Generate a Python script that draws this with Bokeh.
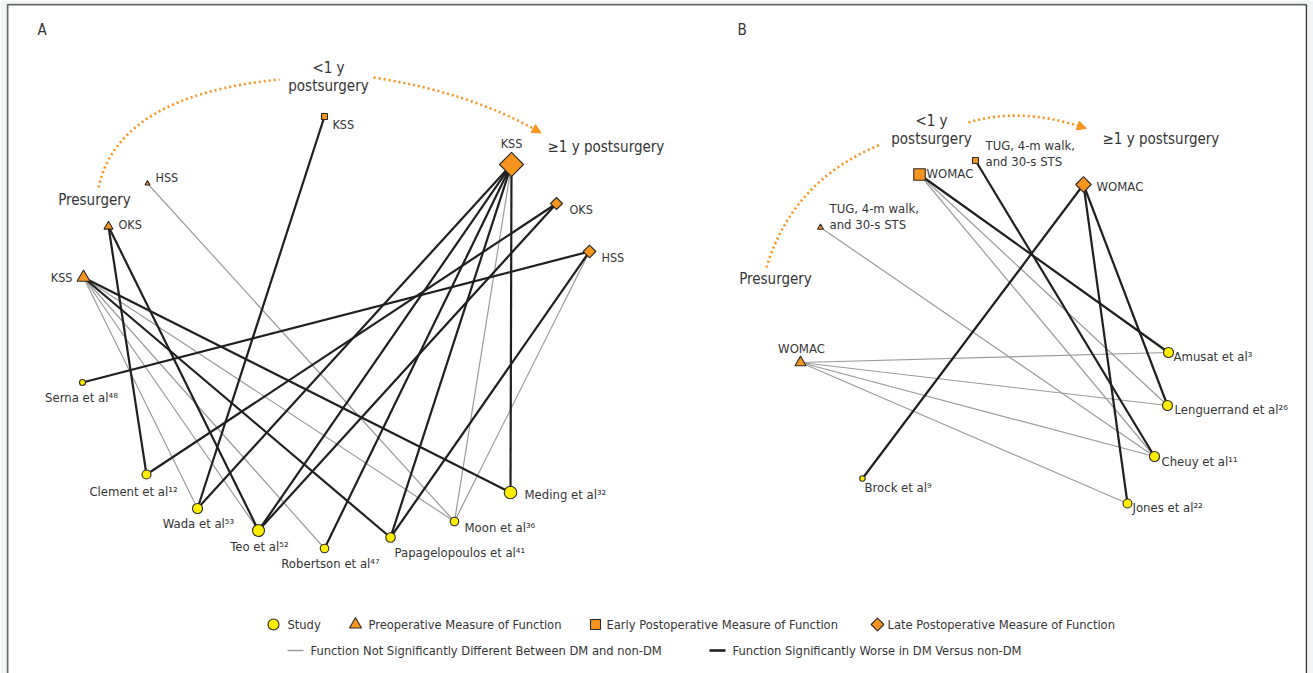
import math
from bokeh.plotting import figure
from bokeh.models import Range1d, Arrow, NormalHead, ColumnDataSource
from bokeh.core.properties import value
from bokeh.embed import file_html
from bokeh.resources import INLINE

FONT = value("'DejaVu Sans Condensed', 'Liberation Sans Narrow', 'Roboto', sans-serif")
ORANGE = "#F7941D"
YELLOW = "#FFEE00"
EDGE_WORSE = "#1f1f1f"
EDGE_SAME = "#9b9b9b"
OUTLINE = "#2a2a2a"
TEXT = "#353535"
SUP = str.maketrans("0123456789", "⁰¹²³⁴⁵⁶⁷⁸⁹")

# ---------------- Panel A: knee and hip scores ----------------
A_MEASURE_ID = ["pre_kss", "pre_oks", "pre_hss", "early_kss", "late_kss", "late_oks", "late_hss"]
A_MEASURE_NAME = ["KSS", "OKS", "HSS", "KSS", "KSS", "OKS", "HSS"]
A_MEASURE_PHASE = ["pre", "pre", "pre", "early", "late", "late", "late"]

A_STUDY_ID = ["serna", "clement", "wada", "teo", "robertson", "papagelopoulos", "moon", "meding"]
A_STUDY_NAME = ["Serna et al", "Clement et al", "Wada et al", "Teo et al", "Robertson et al",
                "Papagelopoulos et al", "Moon et al", "Meding et al"]
A_STUDY_REF = ["48", "12", "53", "52", "47", "41", "36", "32"]

# each edge: measure -> study, 1 = significantly worse in DM
A_EDGE_FROM = ["pre_kss", "pre_kss", "pre_kss", "pre_kss", "pre_kss", "pre_kss",
               "pre_oks", "pre_oks", "pre_hss", "early_kss",
               "late_kss", "late_kss", "late_kss", "late_kss", "late_kss", "late_kss",
               "late_oks", "late_oks", "late_hss", "late_hss", "late_hss"]
A_EDGE_TO = ["wada", "teo", "robertson", "moon", "papagelopoulos", "meding",
             "clement", "teo", "moon", "wada",
             "wada", "teo", "robertson", "papagelopoulos", "meding", "moon",
             "clement", "teo", "serna", "papagelopoulos", "moon"]
A_EDGE_WORSE = [0, 0, 0, 0, 1, 1,
                1, 1, 0, 1,
                1, 1, 1, 1, 1, 0,
                1, 1, 1, 1, 0]

# ---------------- Panel B: WOMAC and performance tests ----------------
B_MEASURE_ID = ["pre_womac", "pre_tug", "early_womac", "early_tug", "late_womac"]
B_MEASURE_NAME = ["WOMAC", "TUG, 4-m walk,\nand 30-s STS", "WOMAC", "TUG, 4-m walk,\nand 30-s STS", "WOMAC"]
B_MEASURE_PHASE = ["pre", "pre", "early", "early", "late"]

B_STUDY_ID = ["amusat", "lenguerrand", "cheuy", "jones", "brock"]
B_STUDY_NAME = ["Amusat et al", "Lenguerrand et al", "Cheuy et al", "Jones et al", "Brock et al"]
B_STUDY_REF = ["3", "26", "11", "22", "9"]

B_EDGE_FROM = ["pre_womac", "pre_womac", "pre_womac", "pre_womac", "pre_tug",
               "early_womac", "early_womac", "early_womac", "early_tug",
               "late_womac", "late_womac", "late_womac"]
B_EDGE_TO = ["amusat", "lenguerrand", "cheuy", "jones", "cheuy",
             "amusat", "lenguerrand", "cheuy", "cheuy",
             "brock", "lenguerrand", "jones"]
B_EDGE_WORSE = [0, 0, 0, 0, 0,
                1, 0, 0, 1,
                1, 1, 1]

# ---------------- layout (pixel-space) ----------------
A_MEASURE_XY = {"pre_kss": (83, 277), "pre_oks": (108, 226), "pre_hss": (147, 183),
                "early_kss": (324, 116), "late_kss": (511, 164), "late_oks": (556, 203),
                "late_hss": (589, 251)}
A_MEASURE_SIZE = {"pre_kss": 13, "pre_oks": 9, "pre_hss": 5, "early_kss": 6,
                  "late_kss": 17, "late_oks": 8.5, "late_hss": 9}
A_MEASURE_LABEL = {"pre_kss": (72, 277, "right"), "pre_oks": (118, 224, "left"),
                   "pre_hss": (155, 177, "left"), "early_kss": (332, 124, "left"),
                   "late_kss": (511, 143, "center"), "late_oks": (569, 209, "left"),
                   "late_hss": (601, 257, "left")}
A_STUDY_XY = {"serna": (82, 382), "clement": (146, 474), "wada": (197, 508), "teo": (258, 530),
              "robertson": (324, 548), "papagelopoulos": (390, 537), "moon": (454, 521),
              "meding": (510, 492)}
A_STUDY_SIZE = {"serna": 6, "clement": 9, "wada": 10, "teo": 12, "robertson": 8.5,
                "papagelopoulos": 9.5, "moon": 8.5, "meding": 12.5}
A_STUDY_LABEL = {"serna": (81, 397, "center"), "clement": (133, 491, "center"),
                 "wada": (198, 523, "center"), "teo": (259, 546, "center"),
                 "robertson": (330, 563, "center"), "papagelopoulos": (394, 552, "left"),
                 "moon": (464, 527, "left"), "meding": (524, 494, "left")}

B_MEASURE_XY = {"pre_womac": (800, 362), "pre_tug": (820, 227), "early_womac": (919, 174),
                "early_tug": (975, 160), "late_womac": (1083, 184)}
B_MEASURE_SIZE = {"pre_womac": 11, "pre_tug": 6, "early_womac": 11.5, "early_tug": 6, "late_womac": 11}
B_MEASURE_LABEL = {"pre_womac": (801, 348, "center"), "pre_tug": (829, 216, "left"),
                   "early_womac": (926, 173, "left"), "early_tug": (985, 153, "left"),
                   "late_womac": (1096, 186, "left")}
B_STUDY_XY = {"amusat": (1168, 352), "lenguerrand": (1167, 405), "cheuy": (1154, 456),
              "jones": (1127, 503), "brock": (862, 478)}
B_STUDY_SIZE = {"amusat": 10, "lenguerrand": 10, "cheuy": 10, "jones": 9, "brock": 5.5}
B_STUDY_LABEL = {"amusat": (1173, 356, "left"), "lenguerrand": (1174, 409, "left"),
                 "cheuy": (1161, 461, "left"), "jones": (1132, 507, "left"),
                 "brock": (864, 487, "left")}

p = figure(width=1313, height=673, x_range=Range1d(6, 1307), y_range=Range1d(673, 3),
           min_border_left=6, min_border_right=6, min_border_top=3, min_border_bottom=0,
           x_axis_location=None, y_axis_location=None,
           output_backend="svg", toolbar_location=None,
           outline_line_color=None, border_fill_color="#f3f4f6")
p.xgrid.visible = False
p.ygrid.visible = False
p.background_fill_color = "white"

# page frame: left, top and right edges
p.line([7, 7, 1306], [673, 4, 4], line_color="#666666", line_width=2)
p.line([1306, 1306], [4, 673], line_color="#3a3a3a", line_width=1.5)


def draw_edges(frm, to, worse, mxy, sxy):
    for flag, color, width in ((0, EDGE_SAME, 1.2), (1, EDGE_WORSE, 2.2)):
        xs, ys = [], []
        for f, t, w in zip(frm, to, worse):
            if w != flag:
                continue
            (x0, y0), (x1, y1) = mxy[f], sxy[t]
            xs.append([x0, x1])
            ys.append([y0, y1])
        p.multi_line(xs, ys, line_color=color, line_width=width)


def draw_measures(ids, names, phases, mxy, msize, mlabel, fsize):
    for phase, marker, angle in (("pre", "triangle", 0), ("early", "square", 0),
                                 ("late", "square", math.pi / 4)):
        sel = [i for i, ph in zip(ids, phases) if ph == phase]
        if not sel:
            continue
        src = ColumnDataSource(dict(x=[mxy[i][0] for i in sel], y=[mxy[i][1] for i in sel],
                                    s=[msize[i] for i in sel]))
        p.scatter("x", "y", size="s", marker=marker, angle=angle, source=src,
                  fill_color=ORANGE, line_color=OUTLINE, line_width=1.1)
    for i, n in zip(ids, names):
        x, y, al = mlabel[i]
        p.text([x], [y], text=[n], text_font=FONT, text_font_size=fsize, text_color=TEXT,
               text_align=al, text_baseline="middle", text_line_height=1.1)


def draw_studies(ids, names, refs, sxy, ssize, slabel):
    src = ColumnDataSource(dict(x=[sxy[i][0] for i in ids], y=[sxy[i][1] for i in ids],
                                s=[ssize[i] for i in ids]))
    p.scatter("x", "y", size="s", marker="circle", source=src,
              fill_color=YELLOW, line_color=OUTLINE, line_width=1.1)
    for i, n, r in zip(ids, names, refs):
        x, y, al = slabel[i]
        p.text([x], [y], text=[n + r.translate(SUP)], text_font=FONT, text_font_size="13px",
               text_color=TEXT, text_align=al, text_baseline="middle")


def stage_text(x, y, s, al="center"):
    p.text([x], [y], text=[s], text_font=FONT, text_font_size="15px", text_color=TEXT,
           text_align=al, text_baseline="middle")


def dotted_arc(x0, y0, cx, cy, x1, y1, arrow):
    p.quadratic(x0=[x0], y0=[y0], cx=[cx], cy=[cy], x1=[x1], y1=[y1],
                line_color=ORANGE, line_width=2.6, line_dash="2 3")
    if arrow:
        dx, dy = x1 - cx, y1 - cy
        d = math.hypot(dx, dy)
        p.add_layout(Arrow(end=NormalHead(size=9, fill_color=ORANGE, line_color=ORANGE),
                           x_start=x1 - 3 * dx / d, y_start=y1 - 3 * dy / d,
                           x_end=x1 + 3 * dx / d, y_end=y1 + 3 * dy / d,
                           line_alpha=0))


# ---- panel A
dotted_arc(98, 187, 118, 95, 279, 79, False)
dotted_arc(373, 77, 470, 92, 538, 131, True)
draw_edges(A_EDGE_FROM, A_EDGE_TO, A_EDGE_WORSE, A_MEASURE_XY, A_STUDY_XY)
draw_measures(A_MEASURE_ID, A_MEASURE_NAME, A_MEASURE_PHASE, A_MEASURE_XY,
              A_MEASURE_SIZE, A_MEASURE_LABEL, "12.5px")
draw_studies(A_STUDY_ID, A_STUDY_NAME, A_STUDY_REF, A_STUDY_XY, A_STUDY_SIZE, A_STUDY_LABEL)
p.text([37], [29], text=["A"], text_font=FONT, text_font_size="15px", text_color=TEXT,
       text_baseline="middle")
stage_text(328, 67, "<1 y")
stage_text(328, 85, "postsurgery")
stage_text(94, 199, "Presurgery")
stage_text(547, 146, "≥1 y postsurgery", "left")

# ---- panel B
dotted_arc(766, 267, 792, 180, 880, 144, False)
dotted_arc(968, 122, 1020, 106, 1083, 127, True)
draw_edges(B_EDGE_FROM, B_EDGE_TO, B_EDGE_WORSE, B_MEASURE_XY, B_STUDY_XY)
draw_measures(B_MEASURE_ID, B_MEASURE_NAME, B_MEASURE_PHASE, B_MEASURE_XY,
              B_MEASURE_SIZE, B_MEASURE_LABEL, "13px")
draw_studies(B_STUDY_ID, B_STUDY_NAME, B_STUDY_REF, B_STUDY_XY, B_STUDY_SIZE, B_STUDY_LABEL)
p.text([737], [29], text=["B"], text_font=FONT, text_font_size="15px", text_color=TEXT,
       text_baseline="middle")
stage_text(931, 120, "<1 y")
stage_text(931, 138, "postsurgery")
stage_text(775, 278, "Presurgery")
stage_text(1102, 138, "≥1 y postsurgery", "left")

# ---- legend
LEG_NODE = ["Study", "Preoperative Measure of Function", "Early Postoperative Measure of Function",
            "Late Postoperative Measure of Function"]
LEG_EDGE = ["Function Not Significantly Different Between DM and non-DM",
            "Function Significantly Worse in DM Versus non-DM"]
leg_marker = [("circle", 0, YELLOW, 11, 273), ("triangle", 0, ORANGE, 12, 355),
              ("square", 0, ORANGE, 10, 595), ("square", math.pi / 4, ORANGE, 9, 877)]
leg_text_x = [287, 368, 606, 887]
for (mk, ang, col, sz, mx), tx, lab in zip(leg_marker, leg_text_x, LEG_NODE):
    p.scatter([mx], [624], marker=mk, angle=ang, size=sz, fill_color=col,
              line_color=OUTLINE, line_width=1.1)
    p.text([tx], [624], text=[lab], text_font=FONT, text_font_size="12.8px", text_color=TEXT,
           text_baseline="middle")
for (x0, x1, col, w), tx, lab in zip([(287, 303, EDGE_SAME, 1.5), (709, 725, EDGE_WORSE, 2.6)],
                                     [310, 732], LEG_EDGE):
    p.segment([x0], [650], [x1], [650], line_color=col, line_width=w)
    p.text([tx], [650], text=[lab], text_font=FONT, text_font_size="12.8px", text_color=TEXT,
           text_baseline="middle")

open("out.html", "w").write(file_html(p, INLINE))
